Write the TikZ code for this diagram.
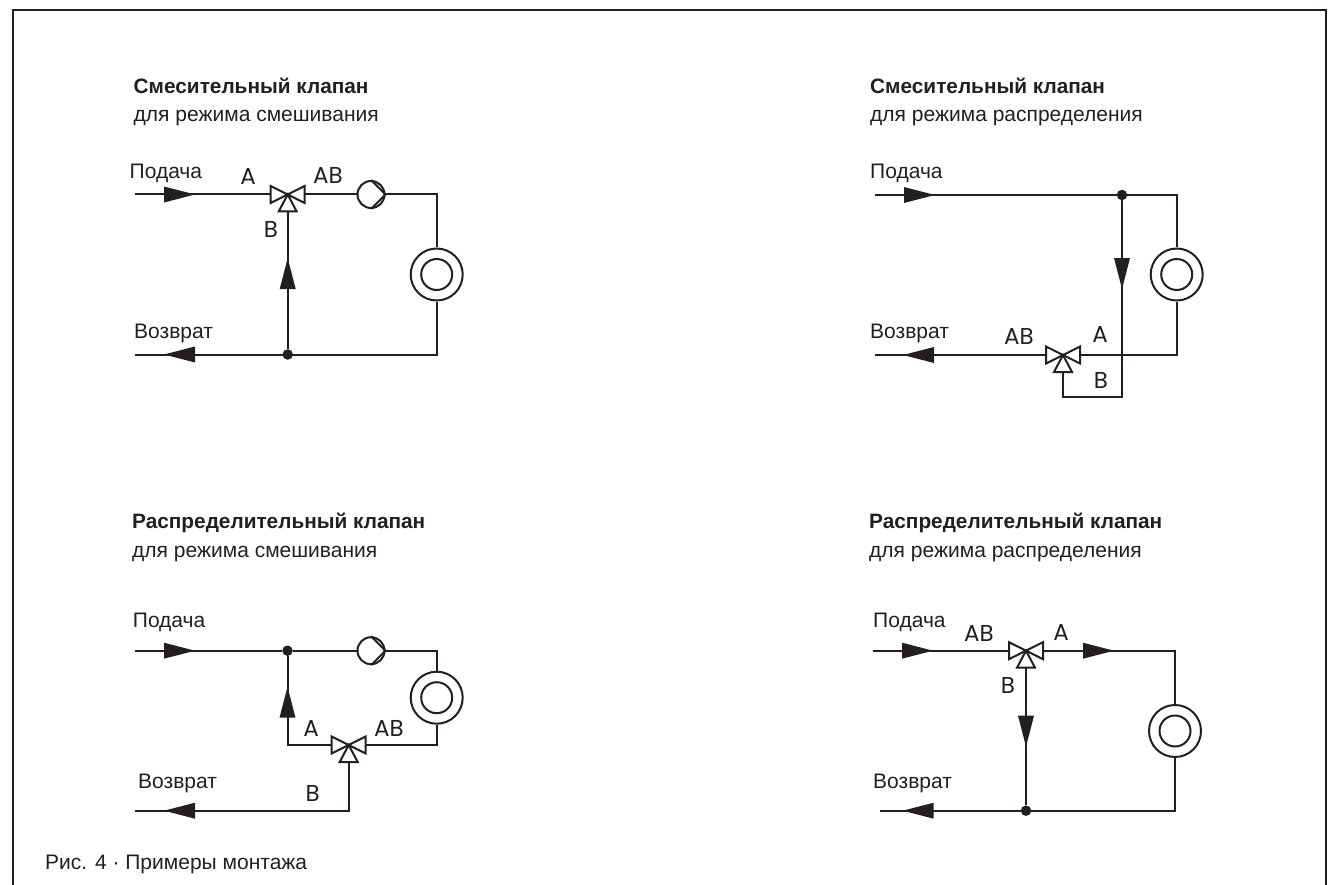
\documentclass[tikz,border=0pt]{standalone}
\usepackage{fontspec}
\setmainfont{Liberation Sans}
\newfontfamily\geofont{Poppins}
\definecolor{ink}{HTML}{231F20}
\newcommand{\flowtip}[3]{\fill[ink,shift={(#1,#2)},rotate=#3] (0,0)--(-31,8)--(-31,-8)--cycle;}
\newcommand{\tvalve}[1]{\begin{scope}[shift={(#1)}]
 \filldraw[valve] (0,0)--(-17,-8.5)--(-17,8.5)--cycle;
 \filldraw[valve] (0,0)--(17,-8.5)--(17,8.5)--cycle;
 \filldraw[valve] (0,0)--(-9,17)--(9,17)--cycle;
 \end{scope}}
\newcommand{\ppump}[1]{\draw[pipe] (#1.north)--(#1.east)--(#1.south);}
\tikzset{
 x=1pt,y=-1pt,
 pipe/.style={draw=ink,line width=2pt,line cap=butt,line join=miter},
 valve/.style={draw=ink,fill=white,line width=2pt,line join=miter},
 pumpc/.style={circle,draw=ink,line width=2pt,minimum size=27pt,inner sep=0pt,fill=white},
 radouter/.style={circle,draw=ink,line width=2pt,minimum size=52pt,inner sep=0pt,fill=white},
 radinner/.style={circle,draw=ink,line width=2pt,minimum size=31pt,inner sep=0pt,fill=white},
 dotn/.style={circle,fill=ink,minimum size=10.5pt,inner sep=0pt},
 lab/.style={anchor=base west,inner sep=0pt,text=ink,font=\fontsize{21}{24}\selectfont},
 head/.style={anchor=base west,inner sep=0pt,text=ink,font=\fontsize{20.8}{24}\selectfont\bfseries},
 sub/.style={anchor=base west,inner sep=0pt,text=ink,font=\fontsize{21}{24}\selectfont},
 port/.style={anchor=base,inner sep=0pt,text=ink,font=\fontsize{23}{26}\selectfont\geofont},
}
\begin{document}
\begin{tikzpicture}
\useasboundingbox (0,0) rectangle (1332,885);
\draw[draw=ink,line width=2pt] (12.5,885)--(12.5,10)--(1326,10)--(1326,885);
%% Panel 1
\coordinate (a1) at (135,194.5); \coordinate (v1) at (287.7,194.5); \coordinate (c1) at (436.7,194.5);
\coordinate (d1) at (436.7,354.5); \coordinate (r1) at (135,354.5);
\node[pumpc] (p1) at (371,194.5) {};
\node[radouter] (ro1) at (436.7,274.5) {}; \node[radinner] (ri1) at (436.7,274.5) {};
\node[dotn] (j1) at (287.7,354.5) {};
\draw[pipe] (a1)--(v1)--(p1.west);
\draw[pipe] (p1.east)--(c1)--(ro1.north);
\draw[pipe] (ro1.south)--(d1)--(r1);
\draw[pipe] (j1)--(v1);
\ppump{p1}
\tvalve{v1}
\flowtip{195}{194.5}{0}
\flowtip{164}{354.5}{180}
\flowtip{287.7}{258}{90}
\node[head] (t1a) at (133.5,93.3) {Смесительный клапан};
\node[sub] (t1b) at (133.5,121.7) {для режима смешивания};
\node[lab] (l1a) at (129.5,179) {Подача};
\node[lab] (l1b) at (134,338) {Возврат};
\node[port] (l1c) at (248,185) {A};
\node[port] (l1d) at (328,184) {AB};
\node[port] (l1e) at (271,238) {B};
%% Panel 2
\coordinate (a2) at (875,195); \coordinate (c2) at (1176.7,195); \coordinate (d2) at (1176.7,355);
\coordinate (v2) at (1063,355); \coordinate (r2) at (875,355); \coordinate (k2) at (1122,396.7); \coordinate (k3) at (1063,396.7);
\node[dotn] (j2) at (1122,195) {};
\node[radouter] (ro2) at (1176.7,274.5) {}; \node[radinner] (ri2) at (1176.7,274.5) {};
\draw[pipe] (a2)--(j2)--(c2)--(ro2.north);
\draw[pipe] (ro2.south)--(d2)--(v2)--(r2);
\draw[pipe] (j2)--(k2)--(k3)--(v2);
\tvalve{v2}
\flowtip{935}{195}{0}
\flowtip{903}{355}{180}
\flowtip{1122}{289}{270}
\node[head] (t2a) at (870,93.3) {Смесительный клапан};
\node[sub] (t2b) at (870,121.7) {для режима распределения};
\node[lab] (l2a) at (870,179) {Подача};
\node[lab] (l2b) at (870,338) {Возврат};
\node[port] (l2c) at (1019,344) {AB};
\node[port] (l2d) at (1100,342.7) {A};
\node[port] (l2e) at (1101,388) {B};
%% Panel 3
\coordinate (a3) at (135,650.7); \coordinate (c3) at (436.7,650.7); \coordinate (d3) at (436.7,745);
\coordinate (v3) at (348.7,745); \coordinate (e3) at (287.5,745); \coordinate (f3) at (348.7,810.7); \coordinate (r3) at (135,810.7);
\node[dotn] (j3) at (287.5,650.7) {};
\node[pumpc] (p3) at (371,650.7) {};
\node[radouter] (ro3) at (436.7,697.7) {}; \node[radinner] (ri3) at (436.7,697.7) {};
\draw[pipe] (a3)--(j3)--(p3.west);
\draw[pipe] (p3.east)--(c3)--(ro3.north);
\draw[pipe] (ro3.south)--(d3)--(v3)--(e3)--(j3);
\draw[pipe] (v3)--(f3)--(r3);
\ppump{p3}
\tvalve{v3}
\flowtip{195}{650.7}{0}
\flowtip{164}{810.7}{180}
\flowtip{287.5}{686.7}{90}
\node[head] (t3a) at (132,528.7) {Распределительный клапан};
\node[sub] (t3b) at (132,557) {для режима смешивания};
\node[lab] (l3a) at (132.7,627) {Подача};
\node[lab] (l3b) at (138,788) {Возврат};
\node[port] (l3c) at (311,736) {A};
\node[port] (l3d) at (389,736) {AB};
\node[port] (l3e) at (312.7,801) {B};
%% Panel 4
\coordinate (a4) at (873,650.7); \coordinate (v4) at (1026,650.7); \coordinate (c4) at (1175,650.7);
\coordinate (d4) at (1175,810.7); \coordinate (r4) at (880,810.7);
\node[dotn] (j4) at (1026,810.7) {};
\node[radouter] (ro4) at (1175,731) {}; \node[radinner] (ri4) at (1175,731) {};
\draw[pipe] (a4)--(v4)--(c4)--(ro4.north);
\draw[pipe] (ro4.south)--(d4)--(r4);
\draw[pipe] (v4)--(j4);
\tvalve{v4}
\flowtip{933}{650.7}{0}
\flowtip{1114}{650.7}{0}
\flowtip{902.7}{810.7}{180}
\flowtip{1026}{746.7}{270}
\node[head] (t4a) at (869,528.7) {Распределительный клапан};
\node[sub] (t4b) at (869,557) {для режима распределения};
\node[lab] (l4a) at (873,627) {Подача};
\node[lab] (l4b) at (873,788) {Возврат};
\node[port] (l4c) at (979,641.7) {AB};
\node[port] (l4d) at (1061,640.7) {A};
\node[port] (l4e) at (1008,693) {B};
%% Caption
\node[sub] (cap) at (45,869) {Рис. 4 · Примеры монтажа};
\end{tikzpicture}
\end{document}
